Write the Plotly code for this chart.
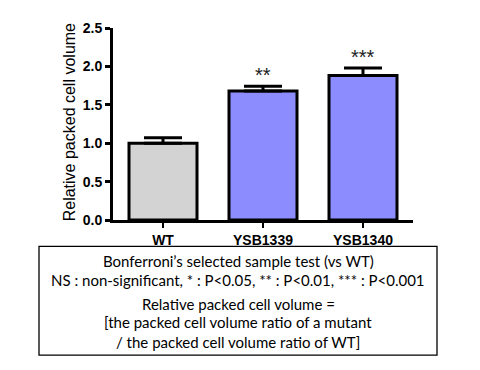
import plotly.graph_objects as go

categories = ["WT", "YSB1339", "YSB1340"]
values = [1.00, 1.68, 1.88]
errors = [0.07, 0.06, 0.10]
stars = ["", "**", "***"]
colors = ["#D3D3D3", "#8C8CFF", "#8C8CFF"]
y_ticks = [0.0, 0.5, 1.0, 1.5, 2.0, 2.5]
box_lines = [
    "Bonferroni\u2019s selected sample test (vs WT)",
    "NS : non-significant, * : P<0.05, ** : P<0.01, *** : P<0.001",
    "Relative packed cell volume =",
    "[the packed cell volume ratio of a mutant",
    "/ the packed cell volume ratio of WT]",
]
box_line_px = [263, 283, 308, 327, 347]

O = 8  # page body margin
W, H = 480 - O, 370 - O
L = 113 - O
T = 21 - O
R = W - (413 - O)
B = H - (220.5 - O)
pw = W - L - R
ph = H - T - B

def px_x(x):
    return (x - O - L) / pw

def px_y(y):
    return (H - B - (y - O)) / ph

FONT = "Liberation Sans, Arial"

fig = go.Figure()
fig.add_trace(go.Bar(
    x=categories, y=values, width=0.68,
    marker=dict(color=colors, line=dict(color="black", width=3)),
    error_y=dict(type="data", symmetric=False, array=errors,
                 arrayminus=[0] * len(errors), color="black",
                 thickness=3, width=19),
    showlegend=False,
))

annotations = []
for c, v, e, s in zip(categories, values, errors, stars):
    if s:
        annotations.append(dict(x=c, y=v + e, text=s, showarrow=False,
                                xref="x", yref="y", yanchor="middle", yshift=11,
                                font=dict(family=FONT, size=20, color="#222222")))

annotations.append(dict(x=px_x(69), y=px_y(119), xref="paper", yref="paper",
                        text="Relative packed cell volume", textangle=-90,
                        showarrow=False, xanchor="center", yanchor="middle",
                        font=dict(family=FONT, size=16, color="black")))

cx = px_x((39 + 437) / 2)
for t, yy in zip(box_lines, box_line_px):
    annotations.append(dict(x=cx, y=px_y(yy), xref="paper", yref="paper", text=t,
                            showarrow=False, xanchor="center", yanchor="middle",
                            font=dict(family="Lato", size=15, color="black")))

fig.update_layout(
    width=W, height=H,
    margin=dict(l=L, r=R, t=T, b=B, pad=0),
    paper_bgcolor="white", plot_bgcolor="white",
    annotations=annotations,
    shapes=[dict(type="rect", xref="paper", yref="paper",
                 x0=px_x(39), x1=px_x(437), y0=px_y(361), y1=px_y(248),
                 line=dict(color="black", width=1.3), fillcolor="rgba(0,0,0,0)")],
    xaxis=dict(range=[-0.5, 2.5], showline=True, linecolor="black", linewidth=3,
               ticks="outside", ticklen=5, tickwidth=2, tickcolor="black",
               showgrid=False, zeroline=False,
               tickfont=dict(family=FONT, size=14, color="black", weight="bold")),
    yaxis=dict(range=[0, 2.5001], tickvals=y_ticks,
               ticktext=[f"{v:.1f}" for v in y_ticks],
               showline=True, linecolor="black", linewidth=3,
               ticks="outside", ticklen=5, tickwidth=3, tickcolor="black",
               showgrid=False, zeroline=False,
               tickfont=dict(family=FONT, size=14, color="black", weight="bold")),
)

fig.write_html("out.html")
